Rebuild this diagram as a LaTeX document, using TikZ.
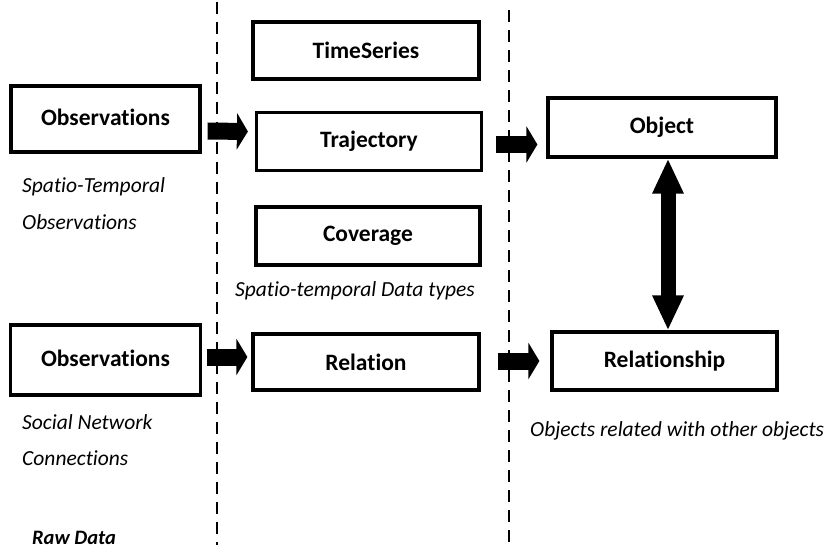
\documentclass[tikz,border=0pt]{standalone}
\usepackage{fontspec}
\setmainfont[Ligatures=NoCommon,RawFeature=-liga]{Carlito}
\usetikzlibrary{arrows.meta,calc}
\begin{document}
\begin{tikzpicture}[x=1pt,y=-1pt,
  box/.style={draw, line width=3.2pt, minimum width=#1, inner sep=0pt,
              font=\fontsize{23.5}{27}\selectfont\bfseries},
  box/.default=190pt,
  note/.style={anchor=west, inner sep=0pt, font=\fontsize{21.5}{25}\selectfont\itshape},
  divider/.style={line width=1.5pt, dash pattern=on 12pt off 8pt},
  blockarrow/.style={line width=17pt,
      -{Triangle[length=11pt,width=36pt]}},
  bothblock/.style={line width=15pt,
      {Triangle[length=35pt,width=29pt]}-{Triangle[length=35pt,width=29pt]}}
]
\useasboundingbox (0,0) rectangle (824,556);

% column separators
\draw[divider] (217,2) -- (217,545);
\draw[divider] (509,10) -- (509,545);

% raw data column
\node[box=189pt, minimum height=66pt] (obs1) at (105.5,119) {\raisebox{4pt}{Observations}};
\node[box=190pt, minimum height=70pt] (obs2) at (105.5,360) {\raisebox{4pt}{Observations}};
\node[note] (n1) at (22,187) {Spatio-Temporal};
\node[note] (n2) at (22,222) {Observations};
\node[note] (n3) at (22,422) {Social Network};
\node[note] (n4) at (22,458) {Connections};
\node[note, font=\fontsize{20.5}{24}\selectfont\bfseries\itshape] (raw) at (32,538) {Raw Data};

% data type column
\node[box=226pt, minimum height=57pt] (ts) at (366,50.5) {TimeSeries};
\node[box=225pt, minimum height=58pt] (traj) at (369,141.5) {Trajectory};
\node[box=224pt, minimum height=58pt] (cov) at (368,236) {Coverage};
\node[box=226pt, minimum height=56pt] (rel) at (366,362) {Relation};
\node[note, anchor=center] (n5) at (355,291) {Spatio-temporal Data types};

% object column
\node[box=228pt, minimum height=59pt] (obj) at (662,127.5) {Object};
\node[box=225pt, minimum height=58pt] (rship) at (664.5,361) {Relationship};
\node[note] (n6) at (530,431) {Objects related with other objects};

% block arrows between columns
\draw[blockarrow] ($(obs1.east)+(6,12)$) -- ($(traj.west)+(-7,-10)$);
\draw[blockarrow] ($(traj.east)+(13,3)$) -- ($(obj.west)+(-9,17)$);
\draw[blockarrow] ($(obs2.east)+(5,-3)$) -- ($(rel.west)+(-4,-5)$);
\draw[blockarrow] ($(rel.east)+(17,-1)$) -- ($(rship.west)+(-11,0)$);
\draw[bothblock] (obj.south -| 668,0) -- (rship.north -| 668,0);
\end{tikzpicture}
\end{document}
